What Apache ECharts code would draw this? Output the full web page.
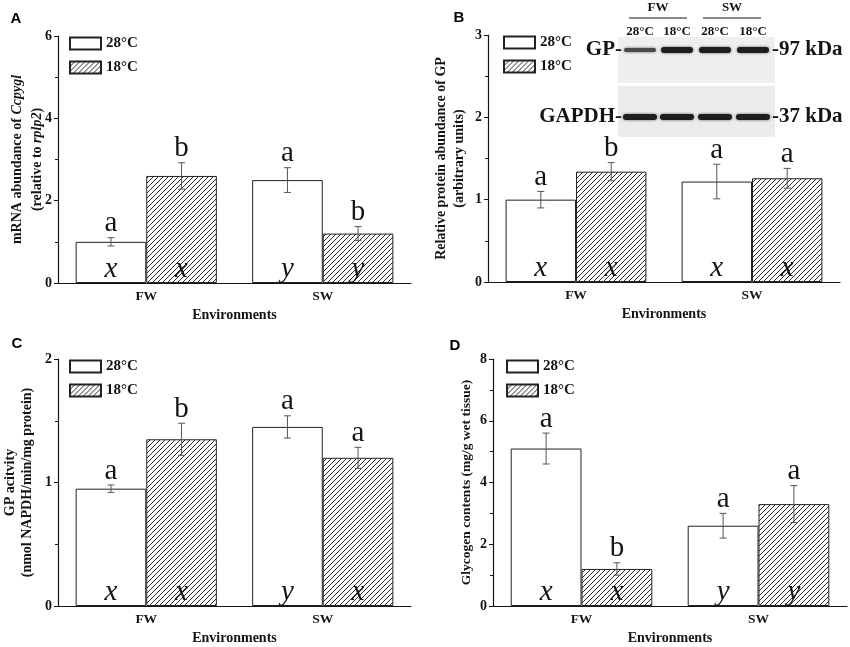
<!DOCTYPE html>
<html>
<head>
<meta charset="utf-8">
<script src="https://cdn.jsdelivr.net/npm/echarts@6/dist/echarts.min.js"></script>
<style>
  html, body { margin: 0; padding: 0; background: #ffffff; }
  #chart-container { width: 850px; height: 647px; }
</style>
</head>
<body>
<div id="chart-container"></div>
<script>
var dom = document.getElementById("chart-container");
var myChart = echarts.init(dom, null, { renderer: "canvas" });

const categories = ["FW", "SW"];
const tempNames = ["28°C", "18°C"];

// A - Ccpygl mRNA
const mrna28 = [1.0, 2.5];
const mrna28Err = [0.1, 0.3];
const mrna18 = [2.6, 1.2];
const mrna18Err = [0.32, 0.17];
const mrnaSig28 = ["a", "a"];
const mrnaSig18 = ["b", "b"];
const mrnaGrp28 = ["x", "y"];
const mrnaGrp18 = ["x", "y"];

// B - GP protein
const prot28 = [1.0, 1.22];
const prot28Err = [0.1, 0.21];
const prot18 = [1.34, 1.26];
const prot18Err = [0.11, 0.12];
const protSig28 = ["a", "a"];
const protSig18 = ["b", "a"];
const protGrp28 = ["x", "x"];
const protGrp18 = ["x", "x"];

// C - GP activity
const act28 = [0.95, 1.45];
const act28Err = [0.03, 0.09];
const act18 = [1.35, 1.2];
const act18Err = [0.13, 0.085];
const actSig28 = ["a", "a"];
const actSig18 = ["b", "a"];
const actGrp28 = ["x", "y"];
const actGrp18 = ["x", "x"];

// D - glycogen
const gly28 = [5.1, 2.6];
const gly28Err = [0.5, 0.4];
const gly18 = [1.2, 3.3];
const gly18Err = [0.2, 0.6];
const glySig28 = ["a", "a"];
const glySig18 = ["b", "a"];
const glyGrp28 = ["x", "y"];
const glyGrp18 = ["x", "y"];

// blot lanes
const blotLanes = ["28°C", "18°C", "28°C", "18°C"];

const SERIF = "'Liberation Serif', 'DejaVu Serif', serif";
const INK = "#141414";

// hatch pattern ////
function makeHatch() {
  const s = 5;
  const c = document.createElement("canvas");
  c.width = s;
  c.height = s;
  const ctx = c.getContext("2d");
  ctx.fillStyle = "#ffffff";
  ctx.fillRect(0, 0, s, s);
  ctx.strokeStyle = "#2a2a2a";
  ctx.lineWidth = 1;
  ctx.beginPath();
  ctx.moveTo(-1, s + 1);
  ctx.lineTo(s + 1, -1);
  ctx.moveTo(-1, 1);
  ctx.lineTo(1, -1);
  ctx.moveTo(s - 1, s + 1);
  ctx.lineTo(s + 1, s - 1);
  ctx.stroke();
  return c;
}
const hatch = { image: makeHatch(), repeat: "repeat" };

const panels = [
  {
    mean: [mrna28, mrna18], err: [mrna28Err, mrna18Err],
    sig: [mrnaSig28, mrnaSig18], grp: [mrnaGrp28, mrnaGrp18],
    max: 6, interval: 2,
    grid: { left: 58, right: 439, top: 36, bottom: 364 },
    legend: { left: 69, top: 36 },
    name: "mRNA abundance of {it|Ccpygl}\n(relative to {it|rplp2})",
    nameGap: 11, nameSize: 14, nameLine: 20,
  },
  {
    mean: [prot28, prot18], err: [prot28Err, prot18Err],
    sig: [protSig28, protSig18], grp: [protGrp28, protGrp18],
    max: 3, interval: 1,
    grid: { left: 488, right: 10, top: 35, bottom: 365 },
    legend: { left: 503, top: 35 },
    name: "Relative protein abundance of GP\n(arbitrary units)",
    nameGap: 20, nameSize: 14, nameLine: 18,
  },
  {
    mean: [act28, act18], err: [act28Err, act18Err],
    sig: [actSig28, actSig18], grp: [actGrp28, actGrp18],
    max: 2, interval: 1,
    grid: { left: 58, right: 439, top: 359, bottom: 41 },
    legend: { left: 69, top: 359 },
    name: "GP acitvity\n(nmol NAPDH/min/mg protein)",
    nameGap: 22, nameSize: 14, nameLine: 17,
  },
  {
    mean: [gly28, gly18], err: [gly28Err, gly18Err],
    sig: [glySig28, glySig18], grp: [glyGrp28, glyGrp18],
    max: 8, interval: 2,
    grid: { left: 493, right: 3, top: 359, bottom: 41 },
    legend: { left: 506, top: 359 },
    name: "Glycogen contents (mg/g wet tissue)",
    nameGap: 17, nameSize: 13.5, nameLine: 18,
  },
];

function errorSeries(p, k, idx) {
  return {
    type: "custom",
    xAxisIndex: idx,
    yAxisIndex: idx,
    z: 5,
    silent: true,
    data: categories.map(function (c, i) {
      return [i, p.mean[k][i] - p.err[k][i], p.mean[k][i] + p.err[k][i]];
    }),
    renderItem: function (params, api) {
      const i = params.dataIndex;
      const band = api.size([1, 0])[0];
      const x = api.coord([api.value(0), 0])[0] + (k === 0 ? -0.2 : 0.2) * band;
      const base = api.coord([api.value(0), 0])[1];
      const lo = api.coord([api.value(0), api.value(1)])[1];
      const hi = api.coord([api.value(0), api.value(2)])[1];
      const cap = 3.5;
      const line = { stroke: "#555", lineWidth: 1 };
      return {
        type: "group",
        children: [
          { type: "line", shape: { x1: x, y1: lo, x2: x, y2: hi }, style: line },
          { type: "line", shape: { x1: x - cap, y1: hi, x2: x + cap, y2: hi }, style: line },
          { type: "line", shape: { x1: x - cap, y1: lo, x2: x + cap, y2: lo }, style: line },
          {
            type: "text",
            style: {
              text: p.sig[k][i], x: x, y: hi - 14,
              align: "center", verticalAlign: "middle",
              font: "29px " + SERIF, fill: INK,
            },
          },
          {
            type: "text",
            style: {
              text: p.grp[k][i], x: x, y: base - 14,
              align: "center", verticalAlign: "middle",
              font: "italic 29px " + SERIF, fill: INK,
            },
          },
        ],
      };
    },
  };
}

const grids = [];
const xAxes = [];
const yAxes = [];
const legends = [];
const series = [];

panels.forEach(function (p, idx) {
  grids.push(Object.assign({ outerBoundsMode: "none", containLabel: false }, p.grid));
  xAxes.push({
    type: "category",
    gridIndex: idx,
    data: categories,
    axisLine: { lineStyle: { color: INK, width: 1.2 } },
    axisTick: { alignWithLabel: true, length: 4, lineStyle: { color: INK } },
    axisLabel: { color: INK, fontFamily: SERIF, fontWeight: "bold", fontSize: 13.5, margin: 7 },
    name: "Environments",
    nameLocation: "middle",
    nameGap: 25,
    nameMoveOverlap: false,
    nameTextStyle: { color: INK, fontFamily: SERIF, fontWeight: "bold", fontSize: 14 },
  });
  yAxes.push({
    type: "value",
    gridIndex: idx,
    min: 0,
    max: p.max,
    interval: p.interval,
    splitLine: { show: false },
    axisLine: { show: true, lineStyle: { color: INK, width: 1.2 } },
    axisTick: { show: true, length: 4, lineStyle: { color: INK } },
    minorTick: { show: true, splitNumber: 2, length: 3, lineStyle: { color: INK } },
    axisLabel: { color: INK, fontFamily: SERIF, fontWeight: "bold", fontSize: 14, margin: 6 },
    name: p.name,
    nameLocation: "middle",
    nameGap: p.nameGap,
    nameMoveOverlap: false,
    nameTextStyle: {
      color: INK, fontFamily: SERIF, fontWeight: "bold", fontSize: p.nameSize, lineHeight: p.nameLine,
      rich: {
        it: { fontFamily: SERIF, fontWeight: "bold", fontStyle: "italic", fontSize: p.nameSize, color: INK, lineHeight: p.nameLine },
      },
    },
  });
  legends.push({
    left: p.legend.left,
    top: p.legend.top,
    orient: "vertical",
    data: tempNames,
    icon: "rect",
    itemWidth: 31,
    itemHeight: 12,
    itemGap: 9,
    selectedMode: false,
    padding: 0,
    textStyle: { color: INK, fontFamily: SERIF, fontWeight: "bold", fontSize: 15 },
  });
  [0, 1].forEach(function (k) {
    series.push({
      type: "bar",
      name: tempNames[k],
      xAxisIndex: idx,
      yAxisIndex: idx,
      data: p.mean[k],
      barGap: "0%",
      barCategoryGap: "20%",
      silent: true,
      itemStyle: {
        color: k === 0 ? "#ffffff" : hatch,
        borderColor: "#222",
        borderWidth: 1,
      },
    });
  });
  series.push(errorSeries(p, 0, idx));
  series.push(errorSeries(p, 1, idx));
});

// western blot inset for panel B
const gelLeft = 618, gelRight = 775;
const laneX = [640, 677, 715, 753];
const blot = [];
blot.push({ type: "rect", shape: { x: gelLeft, y: 37, width: gelRight - gelLeft, height: 46 }, style: { fill: "#efefef" } });
blot.push({ type: "rect", shape: { x: gelLeft, y: 86, width: gelRight - gelLeft, height: 51 }, style: { fill: "#ececec" } });
laneX.forEach(function (x, i) {
  const light = i === 0;
  blot.push({
    type: "rect",
    shape: { x: x - 16, y: light ? 48 : 47, width: 32, height: light ? 4 : 6, r: 3 },
    style: { fill: light ? "#4a4a4a" : "#1e1e1e", shadowBlur: 3, shadowColor: "rgba(0,0,0,0.6)" },
  });
  blot.push({
    type: "rect",
    shape: { x: x - 17, y: 114, width: 34, height: 6, r: 3 },
    style: { fill: "#1e1e1e", shadowBlur: 3, shadowColor: "rgba(0,0,0,0.6)" },
  });
  blot.push({
    type: "text",
    style: { text: blotLanes[i], x: x, y: 32, align: "center", verticalAlign: "middle", font: "bold 13px " + SERIF, fill: INK },
  });
});
[["FW", 658, 629, 687], ["SW", 732, 703, 761]].forEach(function (g) {
  blot.push({ type: "text", style: { text: g[0], x: g[1], y: 8, align: "center", verticalAlign: "middle", font: "bold 13px " + SERIF, fill: INK } });
  blot.push({ type: "line", shape: { x1: g[2], y1: 18, x2: g[3], y2: 18 }, style: { stroke: INK, lineWidth: 1 } });
});
[["GP-", 50], ["GAPDH-", 117]].forEach(function (t) {
  blot.push({ type: "text", style: { text: t[0], x: 622, y: t[1], align: "right", verticalAlign: "middle", font: "bold 21px " + SERIF, fill: INK } });
});
[["-97 kDa", 50], ["-37 kDa", 117]].forEach(function (t) {
  blot.push({ type: "text", style: { text: t[0], x: 772, y: t[1], align: "left", verticalAlign: "middle", font: "bold 21px " + SERIF, fill: INK } });
});

const panelLetters = [["A", 16, 19], ["B", 459, 18], ["C", 17, 344], ["D", 455, 346]].map(function (t) {
  return {
    type: "text",
    style: { text: t[0], x: t[1], y: t[2], align: "center", verticalAlign: "middle", font: "bold 15px 'Liberation Sans', Arial, sans-serif", fill: "#000" },
  };
});

var option = {
  backgroundColor: "#ffffff",
  animation: false,
  grid: grids,
  xAxis: xAxes,
  yAxis: yAxes,
  legend: legends,
  series: series,
  graphic: blot.concat(panelLetters),
};

myChart.setOption(option);
window.addEventListener("resize", myChart.resize);
</script>
</body>
</html>
